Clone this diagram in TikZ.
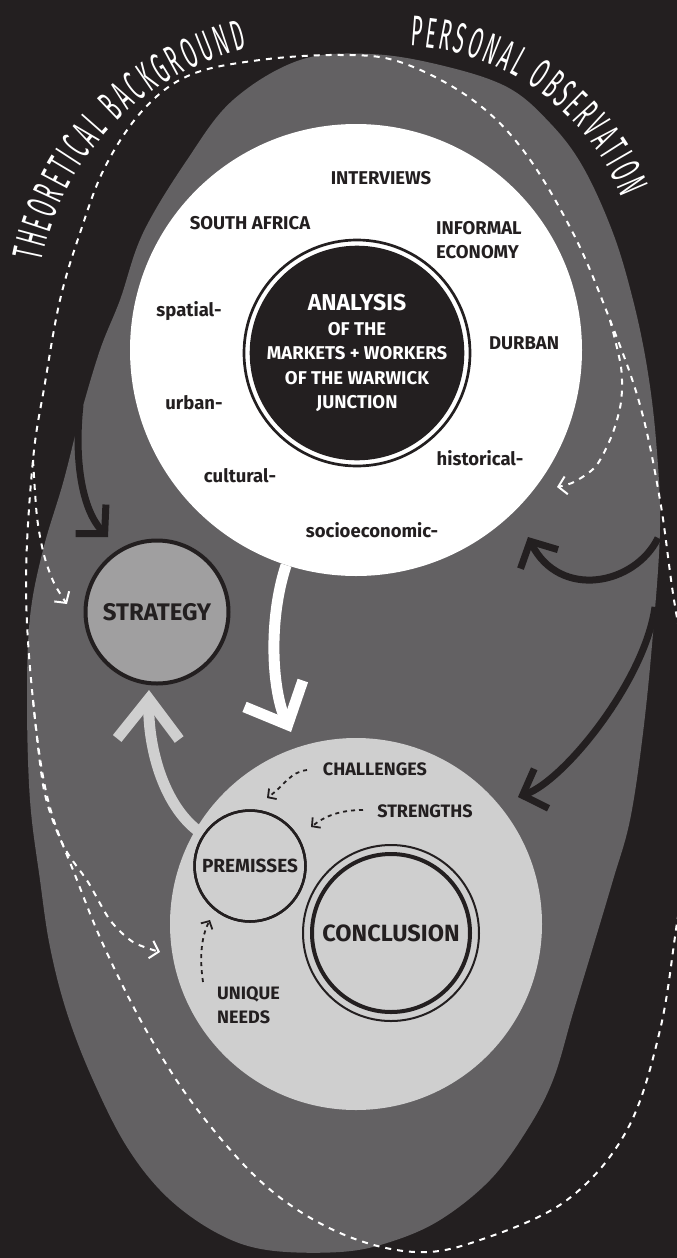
\documentclass[tikz,border=0pt]{standalone}
\usepackage{fontspec}
\setmainfont{Fira Sans}
\newfontfamily\handfont[FakeStretch=0.45]{Fira Sans}
\usetikzlibrary{arrows.meta,decorations.text}

\definecolor{ink}{HTML}{231F20}
\definecolor{fieldgrey}{HTML}{636163}
\definecolor{palegrey}{HTML}{CFCFCF}
\definecolor{stratgrey}{HTML}{A09FA0}

\tikzset{
  tag/.style={text=ink, inner sep=0pt, font=\bfseries\fontsize{18.5}{24}\selectfont},
  note/.style={text=ink, inner sep=0pt, font=\bfseries\fontsize{18}{24}\selectfont},
  bubble/.style={circle, draw=ink, text=ink, inner sep=0pt},
  bigarrow/.style={ink, line width=7pt, -{Straight Barb[length=20pt,width=42pt]}},
  flow/.style={white, line width=2pt, dash pattern=on 6pt off 6pt, -{Straight Barb[length=8pt,width=18pt]}},
  hint/.style={ink, line width=1.8pt, dash pattern=on 4pt off 4pt, -{Straight Barb[length=6pt,width=13pt]}},
  title/.style={decorate, decoration={text along path, text color=white, text align={fit to path},
      text={|\handfont\fontsize{43}{43}\selectfont|#1}}}
}

\begin{document}
\begin{tikzpicture}[x=1pt, y=-1pt]
    \useasboundingbox (0,0) rectangle (677,1258);
    \clip (0,0) rectangle (677,1258);
    \fill[ink] (0,0) rectangle (677,1258);

    % Outer field
    \fill[fieldgrey] plot[smooth cycle, tension=0.6] coordinates {
        (370,54) (440,65) (507,87) (550,123) (583,167) (613,233) (633,300) (647,367)
        (656,440) (660,527) (653,633) (643,733) (630,820) (613,880) (593,947) (573,1013)
        (553,1080) (527,1130) (490,1180) (440,1220) (390,1242) (340,1252) (267,1250)
        (217,1233) (167,1197) (127,1147) (93,1080) (67,1013) (50,947) (40,880) (30,800)
        (27,700) (30,617) (43,550) (63,483) (80,417) (100,350) (120,300) (143,233)
        (187,160) (233,100) (300,60)};

    % Titles along the loop
    \path[title={THEORETICAL BACKGROUND}] (42,262) .. controls (63,156) and (142,74) .. (247,48);
    \path[title={PERSONAL OBSERVATION}] (410,46) .. controls (504,51) and (587,110) .. (622,198);

    % Dashed loop and its branches
    \draw[flow, -] plot[smooth, tension=0.6] coordinates {
        (692,700) (674,600) (660,500) (640,405) (610,320) (573,233) (523,150) (470,98)
        (400,62) (340,55) (260,60) (190,75) (143,110) (105,167) (80,233) (60,300)
        (45,383) (33,460) (26,583) (33,700) (48,800) (77,880) (107,953) (150,1037)
        (200,1113) (267,1187) (340,1233) (415,1252) (480,1240) (567,1200) (627,1130)
        (660,1030) (677,923) (690,840)};
    \draw[flow] plot[smooth] coordinates {(33,460) (37,517) (44,555) (54,583) (67,604)};
    \draw[flow] plot[smooth] coordinates {(33,700) (44,790) (63,845) (88,882) (110,920) (133,942) (160,952)};
    \draw[flow] plot[smooth] coordinates {(610,320) (621,367) (621,402) (612,435) (596,466) (574,482) (557,487)};

    % Context
    \node[circle, fill=white, minimum size=452pt, inner sep=0pt] (context) at (356,350) {};
    \draw[ink, line width=2.7pt] (357,353) circle[radius=113pt];
    \node[circle, fill=ink, minimum size=206pt, inner sep=0pt, text=white, align=center,
          font=\bfseries\fontsize{18.5}{24.5}\selectfont] (analysis) at (357,353)
        {{\fontsize{23}{24.5}\selectfont ANALYSIS}\\OF THE\\MARKETS + WORKERS\\OF THE WARWICK\\JUNCTION};

    \node[tag] (interviews) at (381,178) {INTERVIEWS};
    \node[tag] (southafrica) at (250,223) {SOUTH AFRICA};
    \node[tag, align=left, anchor=west] (informal) at (436,240) {INFORMAL\\ECONOMY};
    \node[tag] (durban) at (524,343) {DURBAN};
    \node[tag] (spatial) at (189,311) {spatial-};
    \node[tag] (urban) at (194,403) {urban-};
    \node[tag] (cultural) at (240,476) {cultural-};
    \node[tag] (historical) at (480,458) {historical-};
    \node[tag] (socio) at (372,530) {socioeconomic-};

    % Findings
    \node[circle, fill=palegrey, minimum size=372pt, inner sep=0pt] (findings) at (356,924) {};
    \node[bubble, fill=stratgrey, line width=4pt, minimum size=143pt,
          font=\bfseries\fontsize{24}{26}\selectfont] (strategy) at (157,612) {STRATEGY};

    % Big arrows
    \coordinate (tbstart) at (80,405);
    \coordinate (strattip) at (108,537);
    \coordinate (posupper) at (658,538);
    \coordinate (ctxtip) at (528,537);
    \coordinate (poslower) at (655,607);
    \coordinate (findtip) at (518,797);
    \coordinate (anatip) at (291,732);
    \coordinate (premtip) at (149,690);
    \draw[bigarrow] (tbstart) .. controls (74,460) and (82,510) .. (strattip);
    \draw[bigarrow] (posupper) .. controls (635,585) and (560,600) .. (ctxtip);
    \draw[bigarrow] (poslower) .. controls (645,680) and (565,780) .. (findtip);
    \draw[white, line width=11pt, -{Straight Barb[length=34pt,width=64pt]}]
        (context.-108) .. controls (268,620) and (272,690) .. (anatip);

    \node[bubble, line width=2.5pt, minimum size=111pt,
          font=\bfseries\fontsize{19}{22}\selectfont] (premisses) at (250,866) {PREMISSES};
    \draw[palegrey, line width=11pt, -{Straight Barb[length=40pt,width=62pt]}]
        (premisses.146) .. controls (165,810) and (148,750) .. (premtip);
    \draw[ink, line width=2.5pt] (premisses) circle[radius=55.5pt];

    \node[bubble, line width=4pt, minimum size=158pt,
          font=\bfseries\fontsize{23.5}{26}\selectfont] (conclusion) at (391,933) {CONCLUSION};
    \draw[ink, line width=2pt] (conclusion) circle[radius=88pt];

    % Small dashed hints
    \node[note] (challenges) at (375,769) {CHALLENGES};
    \node[note] (strengths) at (425,811) {STRENGTHS};
    \node[note, align=left, anchor=west] (needs) at (217,1005) {UNIQUE\\NEEDS};
    \coordinate (chstart) at (307,770);
    \coordinate (chtip) at (267,798);
    \coordinate (ststart) at (363,810);
    \coordinate (sttip) at (311,827);
    \coordinate (unstart) at (203,982);
    \coordinate (untip) at (210,920);
    \draw[hint] (chstart) .. controls (290,772) and (285,785) .. (chtip);
    \draw[hint] (ststart) .. controls (340,810) and (325,816) .. (sttip);
    \draw[hint] (unstart) .. controls (199,955) and (202,935) .. (untip);
\end{tikzpicture}
\end{document}
